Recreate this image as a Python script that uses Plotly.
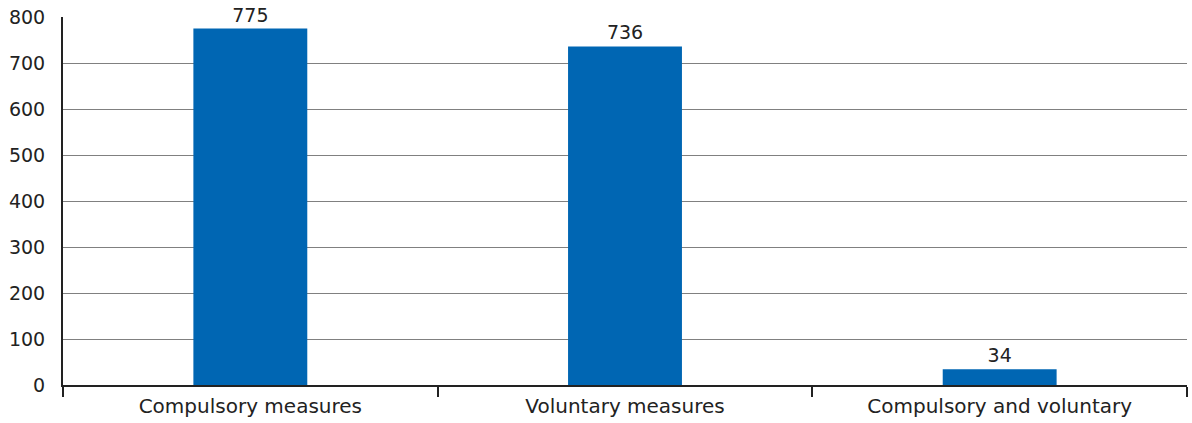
import plotly.graph_objects as go

categories = ["Compulsory measures", "Voluntary measures", "Compulsory and voluntary"]
values = [775, 736, 34]
y_ticks = [0, 100, 200, 300, 400, 500, 600, 700, 800]

fig = go.Figure(
    go.Bar(
        x=categories,
        y=values,
        marker=dict(color="#0066b3", line=dict(width=0)),
        text=[str(v) for v in values],
        textposition="outside",
        textfont=dict(size=19, color="#222222"),
        cliponaxis=False,
    )
)

fig.update_layout(
    width=1192,
    height=423,
    margin=dict(l=63, r=5, t=17, b=38),
    paper_bgcolor="white",
    plot_bgcolor="white",
    bargap=0.696,
    showlegend=False,
    font=dict(family="DejaVu Sans, Verdana, sans-serif", size=19, color="#222222"),
)

fig.update_xaxes(
    type="category",
    tickson="boundaries",
    ticks="outside",
    ticklen=10,
    tickwidth=2,
    tickcolor="#222222",
    showline=True,
    linecolor="#222222",
    linewidth=2,
    showgrid=False,
    tickfont=dict(size=20),
    ticklabelstandoff=2,
)

fig.update_yaxes(
    range=[0, 800],
    tickvals=y_ticks,
    showline=True,
    linecolor="#222222",
    linewidth=2,
    showgrid=True,
    gridcolor="#808080",
    gridwidth=1,
    zeroline=False,
    ticks="",
    ticklabelstandoff=12,
    tickfont=dict(size=19),
)

fig.write_html("out.html")
